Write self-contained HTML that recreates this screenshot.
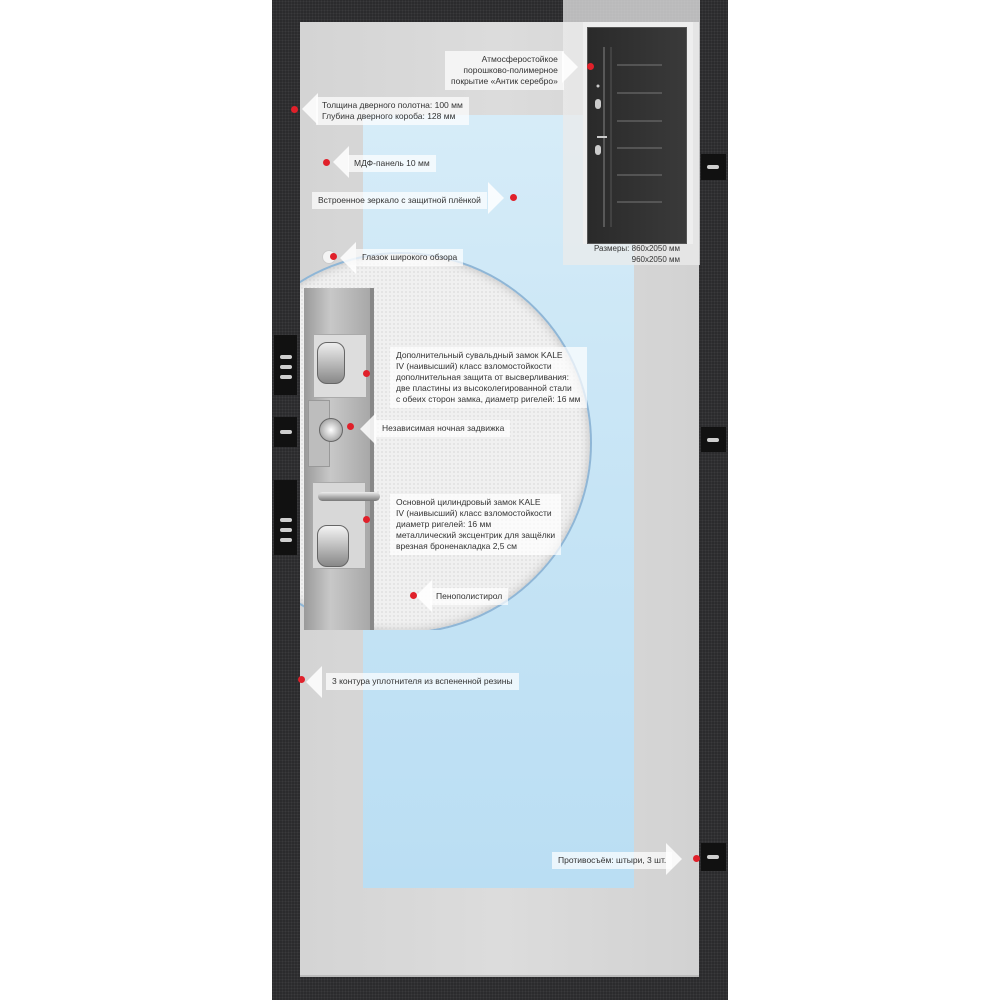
<!DOCTYPE html>
<html><head><meta charset="utf-8">
<style>
html,body{margin:0;padding:0;background:#fff;}
#c{position:relative;width:1000px;height:1000px;overflow:hidden;background:#fff;font-family:"Liberation Sans",sans-serif;}
.abs{position:absolute;}
.frame{left:272px;top:0;width:456px;height:1000px;background:#2b2b2d;
 background-image:radial-gradient(#3a3a3c 1px,transparent 1px);background-size:3px 3px;}
.panel{left:300px;top:22px;width:399px;height:953px;background:linear-gradient(90deg,#d4d4d4,#dcdcdc 50%,#d2d2d2);border-bottom:2px solid #bbb;}
.mirror{left:363px;top:115px;width:271px;height:773px;background:linear-gradient(180deg,#d6ecf8,#c6e4f5 50%,#badef3);}
.hinge{background:#111;}
.pin{position:absolute;left:6px;width:12px;height:4px;background:#cfcfcf;border-radius:2px;}
.lab{position:absolute;font-size:8.5px;color:#333;line-height:11px;white-space:nowrap;background:rgba(255,255,255,0.7);padding:3px 6px;}
.dot{position:absolute;width:7px;height:7px;border-radius:50%;background:#e0202a;}
.arrL{position:absolute;width:0;height:0;border-top:16px solid transparent;border-bottom:16px solid transparent;border-right:16px solid rgba(255,255,255,0.85);}
.arrR{position:absolute;width:0;height:0;border-top:16px solid transparent;border-bottom:16px solid transparent;border-left:16px solid rgba(255,255,255,0.85);}
</style></head><body><div id="c">
<div class="abs frame"></div>
<div class="abs panel"></div>
<div class="abs mirror"></div>
<!-- top right overlay -->
<div class="abs" style="left:563px;top:0;width:137px;height:265px;background:rgba(235,235,235,0.75);"></div>
<div class="abs" style="left:583px;top:22px;width:110px;height:222px;background:#eee;"></div>
<div class="abs" style="left:587px;top:27px;width:98px;height:215px;background:linear-gradient(90deg,#2a2a2a,#3a3a3a);border:1px solid #555;"></div>
<svg class="abs" style="left:587px;top:27px" width="98" height="215">
<line x1="17" y1="20" x2="17" y2="200" stroke="#666" stroke-width="1.5"/>
<line x1="24" y1="20" x2="24" y2="200" stroke="#555" stroke-width="1"/>
<g stroke="#777" stroke-width="1"><line x1="30" y1="38" x2="75" y2="38"/><line x1="30" y1="66" x2="75" y2="66"/><line x1="30" y1="94" x2="75" y2="94"/><line x1="30" y1="121" x2="75" y2="121"/><line x1="30" y1="148" x2="75" y2="148"/><line x1="30" y1="175" x2="75" y2="175"/></g>
<circle cx="11" cy="59" r="1.5" fill="#ccc"/>
<rect x="8" y="72" width="6" height="10" rx="3" fill="#ccc"/>
<rect x="8" y="118" width="6" height="10" rx="3" fill="#ccc"/>
<line x1="10" y1="110" x2="20" y2="110" stroke="#ccc" stroke-width="2"/>
</svg>
<div class="lab" style="left:570px;top:243px;background:none;font-size:8px;text-align:right;width:110px;padding:0">Размеры: 860x2050 мм<br>960x2050 мм</div>
<!-- right hinges -->
<div class="abs hinge" style="left:701px;top:154px;width:25px;height:26px;"><div class="pin" style="top:11px"></div></div>
<div class="abs hinge" style="left:701px;top:427px;width:25px;height:25px;"><div class="pin" style="top:11px"></div></div>
<div class="abs hinge" style="left:701px;top:843px;width:25px;height:28px;"><div class="pin" style="top:12px"></div></div>
<!-- circle cutaway -->
<div class="abs" style="left:300px;top:250px;width:300px;height:380px;overflow:hidden;">
 <div class="abs" style="left:-90px;top:2px;width:382px;height:382px;border-radius:50%;background:#f0f0f0;box-shadow:inset 0 0 10px #bbb;border:2px solid #8fb6d6;box-sizing:border-box;
 background-image:radial-gradient(#e0e0e0 1px,transparent 1px);background-size:4px 4px;"></div>
 <div class="abs" style="left:4px;top:38px;width:66px;height:345px;background:linear-gradient(90deg,#9a9a9a,#c8c8c8 40%,#a8a8a8);"></div>
 <div class="abs" style="left:70px;top:38px;width:4px;height:345px;background:#888;"></div>
 <!-- top lock -->
 <div class="abs" style="left:13px;top:84px;width:52px;height:62px;background:#ddd;border:1px solid #aaa;"></div>
 <div class="abs" style="left:17px;top:92px;width:26px;height:40px;border-radius:10px;background:linear-gradient(#eee,#888);border:1px solid #666;"></div>
 <!-- night latch -->
 <div class="abs" style="left:8px;top:150px;width:20px;height:65px;background:#bdbdbd;border:1px solid #999;"></div>
 <div class="abs" style="left:19px;top:168px;width:22px;height:22px;border-radius:50%;background:radial-gradient(#fff,#888);border:1px solid #666;"></div>
 <!-- main lock -->
 <div class="abs" style="left:12px;top:232px;width:52px;height:85px;background:#d8d8d8;border:1px solid #aaa;"></div>
 <div class="abs" style="left:18px;top:242px;width:62px;height:9px;border-radius:5px;background:linear-gradient(#eee,#777);"></div>
 <div class="abs" style="left:17px;top:275px;width:30px;height:40px;border-radius:10px;background:linear-gradient(#f4f4f4,#888);border:1px solid #666;"></div>
</div>
<!-- left hinges -->
<div class="abs hinge" style="left:274px;top:335px;width:23px;height:60px;"><div class="pin" style="top:20px"></div><div class="pin" style="top:30px"></div><div class="pin" style="top:40px"></div></div>
<div class="abs hinge" style="left:274px;top:417px;width:23px;height:30px;"><div class="pin" style="top:13px"></div></div>
<div class="abs hinge" style="left:274px;top:480px;width:23px;height:75px;"><div class="pin" style="top:38px"></div><div class="pin" style="top:48px"></div><div class="pin" style="top:58px"></div></div>
<!-- peephole -->
<div class="abs" style="left:322px;top:250px;width:12px;height:12px;border-radius:50%;background:#f4f4f4;border:1px solid #ccc;"></div>

<!-- labels -->
<div class="lab" style="left:445px;top:51px;text-align:right;">Атмосферостойкое<br>порошково-полимерное<br>покрытие «Антик серебро»</div>
<div class="arrR" style="left:562px;top:51px;"></div><div class="dot" style="left:587px;top:63px"></div>

<div class="arrL" style="left:302px;top:93px;"></div><div class="dot" style="left:291px;top:106px"></div>
<div class="lab" style="left:316px;top:97px;">Толщина дверного полотна: 100 мм<br>Глубина дверного короба: 128 мм</div>

<div class="arrL" style="left:333px;top:146px;"></div><div class="dot" style="left:323px;top:159px"></div>
<div class="lab" style="left:348px;top:155px;">МДФ-панель 10 мм</div>

<div class="lab" style="left:312px;top:192px;">Встроенное зеркало с защитной плёнкой</div>
<div class="arrR" style="left:488px;top:182px;"></div><div class="dot" style="left:510px;top:194px"></div>

<div class="arrL" style="left:340px;top:242px;"></div><div class="dot" style="left:330px;top:253px"></div>
<div class="lab" style="left:356px;top:249px;">Глазок широкого обзора</div>

<div class="dot" style="left:363px;top:370px"></div>
<div class="lab" style="left:390px;top:347px;font-size:8.5px;line-height:11px;">Дополнительный сувальдный замок KALE<br>IV (наивысший) класс взломостойкости<br>дополнительная защита от высверливания:<br>две пластины из высоколегированной стали<br>с обеих сторон замка, диаметр ригелей: 16 мм</div>

<div class="arrL" style="left:360px;top:413px;"></div><div class="dot" style="left:347px;top:423px"></div>
<div class="lab" style="left:376px;top:420px;">Независимая ночная задвижка</div>

<div class="dot" style="left:363px;top:516px"></div>
<div class="lab" style="left:390px;top:494px;">Основной цилиндровый замок KALE<br>IV (наивысший) класс взломостойкости<br>диаметр ригелей: 16 мм<br>металлический эксцентрик для защёлки<br>врезная броненакладка 2,5 см</div>

<div class="arrL" style="left:416px;top:580px;"></div><div class="dot" style="left:410px;top:592px"></div>
<div class="lab" style="left:430px;top:588px;">Пенополистирол</div>

<div class="arrL" style="left:306px;top:666px;"></div><div class="dot" style="left:298px;top:676px"></div>
<div class="lab" style="left:326px;top:673px;">3 контура уплотнителя из вспененной резины</div>

<div class="lab" style="left:552px;top:852px;">Противосъём: штыри, 3 шт.</div>
<div class="arrR" style="left:666px;top:843px;"></div><div class="dot" style="left:693px;top:855px"></div>
</div></body></html>
